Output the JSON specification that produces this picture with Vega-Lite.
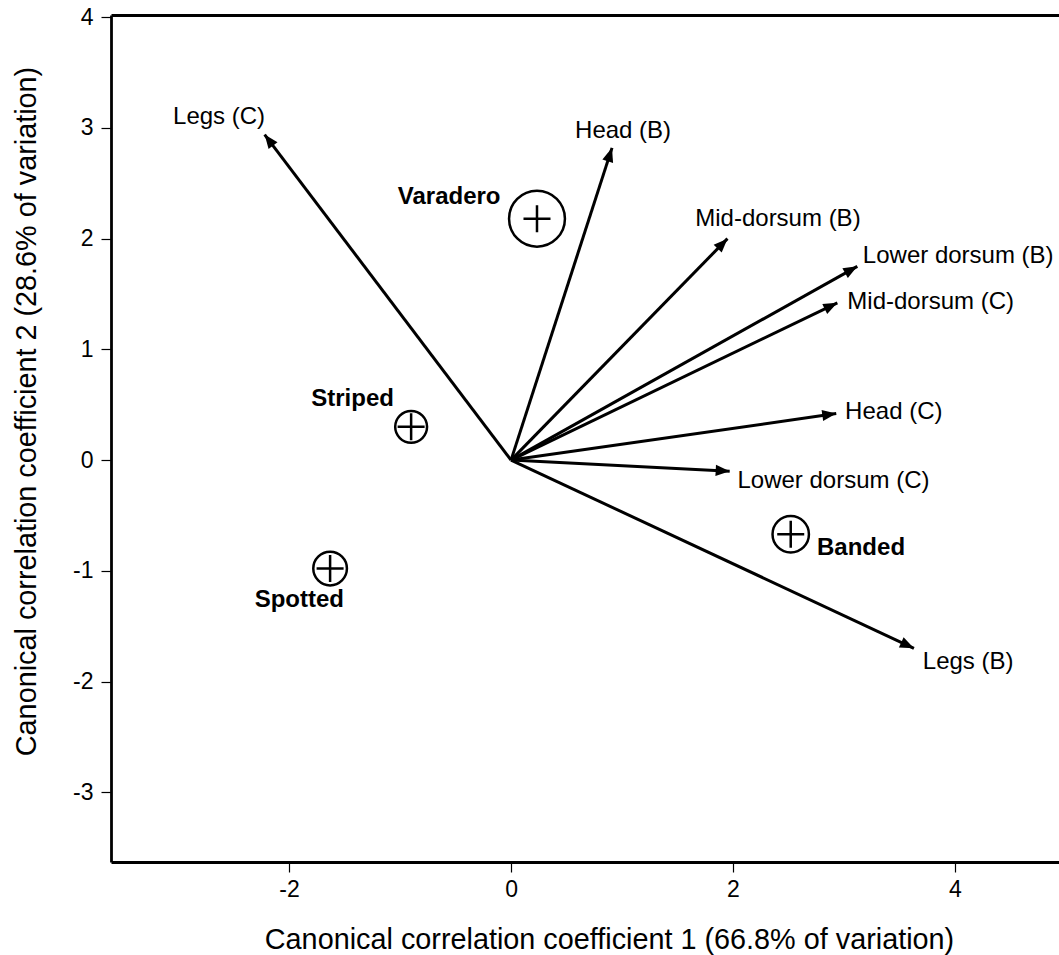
{
  "$schema": "https://vega.github.io/schema/vega-lite/v6.json",
  "width": 948,
  "height": 847,
  "autosize": "none",
  "padding": {"left": 111, "top": 15, "right": 0, "bottom": 93},
  "background": "white",
  "config": {
    "view": {"stroke": null},
    "font": "Liberation Sans",
    "axis": {
      "grid": false,
      "domainColor": "#000",
      "domainWidth": 2.8,
      "tickColor": "#000",
      "tickWidth": 1.2,
      "tickSize": 10,
      "labelColor": "#000",
      "labelFontSize": 23,
      "labelFont": "Liberation Sans",
      "titleFont": "Liberation Sans",
      "titleFontSize": 28.8,
      "titleFontWeight": "normal",
      "titleColor": "#000"
    }
  },
  "datasets": {
    "loadings": [
      {"variable": "Legs (C)", "cc1": -2.22, "cc2": 2.94, "lx": -3.045, "ly": 3.10},
      {"variable": "Head (B)", "cc1": 0.91, "cc2": 2.82, "lx": 0.577, "ly": 2.97},
      {"variable": "Mid-dorsum (B)", "cc1": 1.95, "cc2": 2.0, "lx": 1.66, "ly": 2.18},
      {"variable": "Lower dorsum (B)", "cc1": 3.12, "cc2": 1.75, "lx": 3.17, "ly": 1.84},
      {"variable": "Mid-dorsum (C)", "cc1": 2.94, "cc2": 1.42, "lx": 3.03, "ly": 1.43},
      {"variable": "Head (C)", "cc1": 2.93, "cc2": 0.42, "lx": 3.01, "ly": 0.43},
      {"variable": "Lower dorsum (C)", "cc1": 1.97, "cc2": -0.10, "lx": 2.04, "ly": -0.19},
      {"variable": "Legs (B)", "cc1": 3.63, "cc2": -1.70, "lx": 3.71, "ly": -1.82}
    ],
    "groups": [
      {"group": "Varadero", "cc1": 0.234, "cc2": 2.18, "radius": 0.284, "lx": -1.02, "ly": 2.38},
      {"group": "Striped", "cc1": -0.90, "cc2": 0.30, "radius": 0.162, "lx": -1.80, "ly": 0.55},
      {"group": "Spotted", "cc1": -1.63, "cc2": -0.98, "radius": 0.171, "lx": -2.31, "ly": -1.26},
      {"group": "Banded", "cc1": 2.52, "cc2": -0.67, "radius": 0.185, "lx": 2.757, "ly": -0.79}
    ]
  },
  "layer": [
    {
      "data": {"name": "loadings"},
      "mark": {"type": "rule", "stroke": "#000", "strokeWidth": 3},
      "encoding": {
        "x": {"field": "cc1", "type": "quantitative",
              "scale": {"domain": [-3.604, 4.937], "nice": false, "zero": false},
              "axis": {"orient": "bottom", "values": [-2, 0, 2, 4], "labelPadding": 6, "labelFontSize": 23,
                       "labelExpr": "datum.value",
                       "title": "Canonical correlation coefficient 1 (66.8% of variation)",
                       "titleX": 498, "titleY": 86, "titleBaseline": "alphabetic", "titleAlign": "center"}},
        "x2": {"datum": 0},
        "y": {"field": "cc2", "type": "quantitative",
              "scale": {"domain": [-3.63, 4.02], "nice": false, "zero": false},
              "axis": {"orient": "left", "values": [-3, -2, -1, 0, 1, 2, 3, 4], "labelPadding": 8, "labelFontSize": 23,
                       "labelExpr": "datum.value",
                       "title": "Canonical correlation coefficient 2 (28.6% of variation)",
                       "titleX": -76, "titleY": 396, "titleBaseline": "alphabetic", "titleAlign": "center", "titleAngle": -90}},
        "y2": {"datum": 0}
      }
    },
    {
      "data": {"name": "loadings"},
      "transform": [{"calculate": "atan2(datum.cc1, datum.cc2) * 180 / PI", "as": "heading"}],
      "mark": {"type": "point", "shape": "M0,0L-0.4,1L0.4,1Z", "filled": true, "fill": "#000", "stroke": null, "opacity": 1, "size": 784},
      "encoding": {
        "x": {"field": "cc1", "type": "quantitative", "scale": {"domain": [-3.604, 4.937], "nice": false, "zero": false}, "axis": null},
        "y": {"field": "cc2", "type": "quantitative", "scale": {"domain": [-3.63, 4.02], "nice": false, "zero": false}, "axis": null},
        "angle": {"field": "heading", "type": "quantitative", "scale": null}
      }
    },
    {
      "data": {"name": "groups"},
      "mark": {"type": "point", "shape": "circle", "filled": false, "stroke": "#000", "strokeWidth": 2.5, "opacity": 1},
      "encoding": {
        "x": {"field": "cc1", "type": "quantitative", "scale": {"domain": [-3.604, 4.937], "nice": false, "zero": false},
              "axis": {"orient": "top", "labels": false, "ticks": false, "title": null, "domain": true}},
        "y": {"field": "cc2", "type": "quantitative", "scale": {"domain": [-3.63, 4.02], "nice": false, "zero": false}, "axis": null},
        "size": {"field": "radius", "type": "quantitative", "scale": {"type": "pow", "exponent": 2, "domain": [0, 1], "range": [0, 38707]}, "legend": null}
      }
    },
    {
      "data": {"name": "groups"},
      "mark": {"type": "point", "shape": "M-1,0L1,0M0,-1L0,1", "filled": false, "stroke": "#000", "strokeWidth": 2.5, "opacity": 1, "size": 729},
      "encoding": {
        "x": {"field": "cc1", "type": "quantitative", "scale": {"domain": [-3.604, 4.937], "nice": false, "zero": false}, "axis": null},
        "y": {"field": "cc2", "type": "quantitative", "scale": {"domain": [-3.63, 4.02], "nice": false, "zero": false}, "axis": null}
      }
    },
    {
      "data": {"name": "loadings"},
      "mark": {"type": "text", "align": "left", "baseline": "middle", "fontSize": 24, "font": "Liberation Sans", "fill": "#000"},
      "encoding": {
        "x": {"field": "lx", "type": "quantitative", "scale": {"domain": [-3.604, 4.937], "nice": false, "zero": false}, "axis": null},
        "y": {"field": "ly", "type": "quantitative", "scale": {"domain": [-3.63, 4.02], "nice": false, "zero": false}, "axis": null},
        "text": {"field": "variable"}
      }
    },
    {
      "data": {"name": "groups"},
      "mark": {"type": "text", "align": "left", "baseline": "middle", "fontSize": 24, "fontWeight": "bold", "font": "Liberation Sans", "fill": "#000"},
      "encoding": {
        "x": {"field": "lx", "type": "quantitative", "scale": {"domain": [-3.604, 4.937], "nice": false, "zero": false}, "axis": null},
        "y": {"field": "ly", "type": "quantitative", "scale": {"domain": [-3.63, 4.02], "nice": false, "zero": false}, "axis": null},
        "text": {"field": "group"}
      }
    }
  ],
  "resolve": {"axis": {"x": "independent", "y": "independent"}}
}
